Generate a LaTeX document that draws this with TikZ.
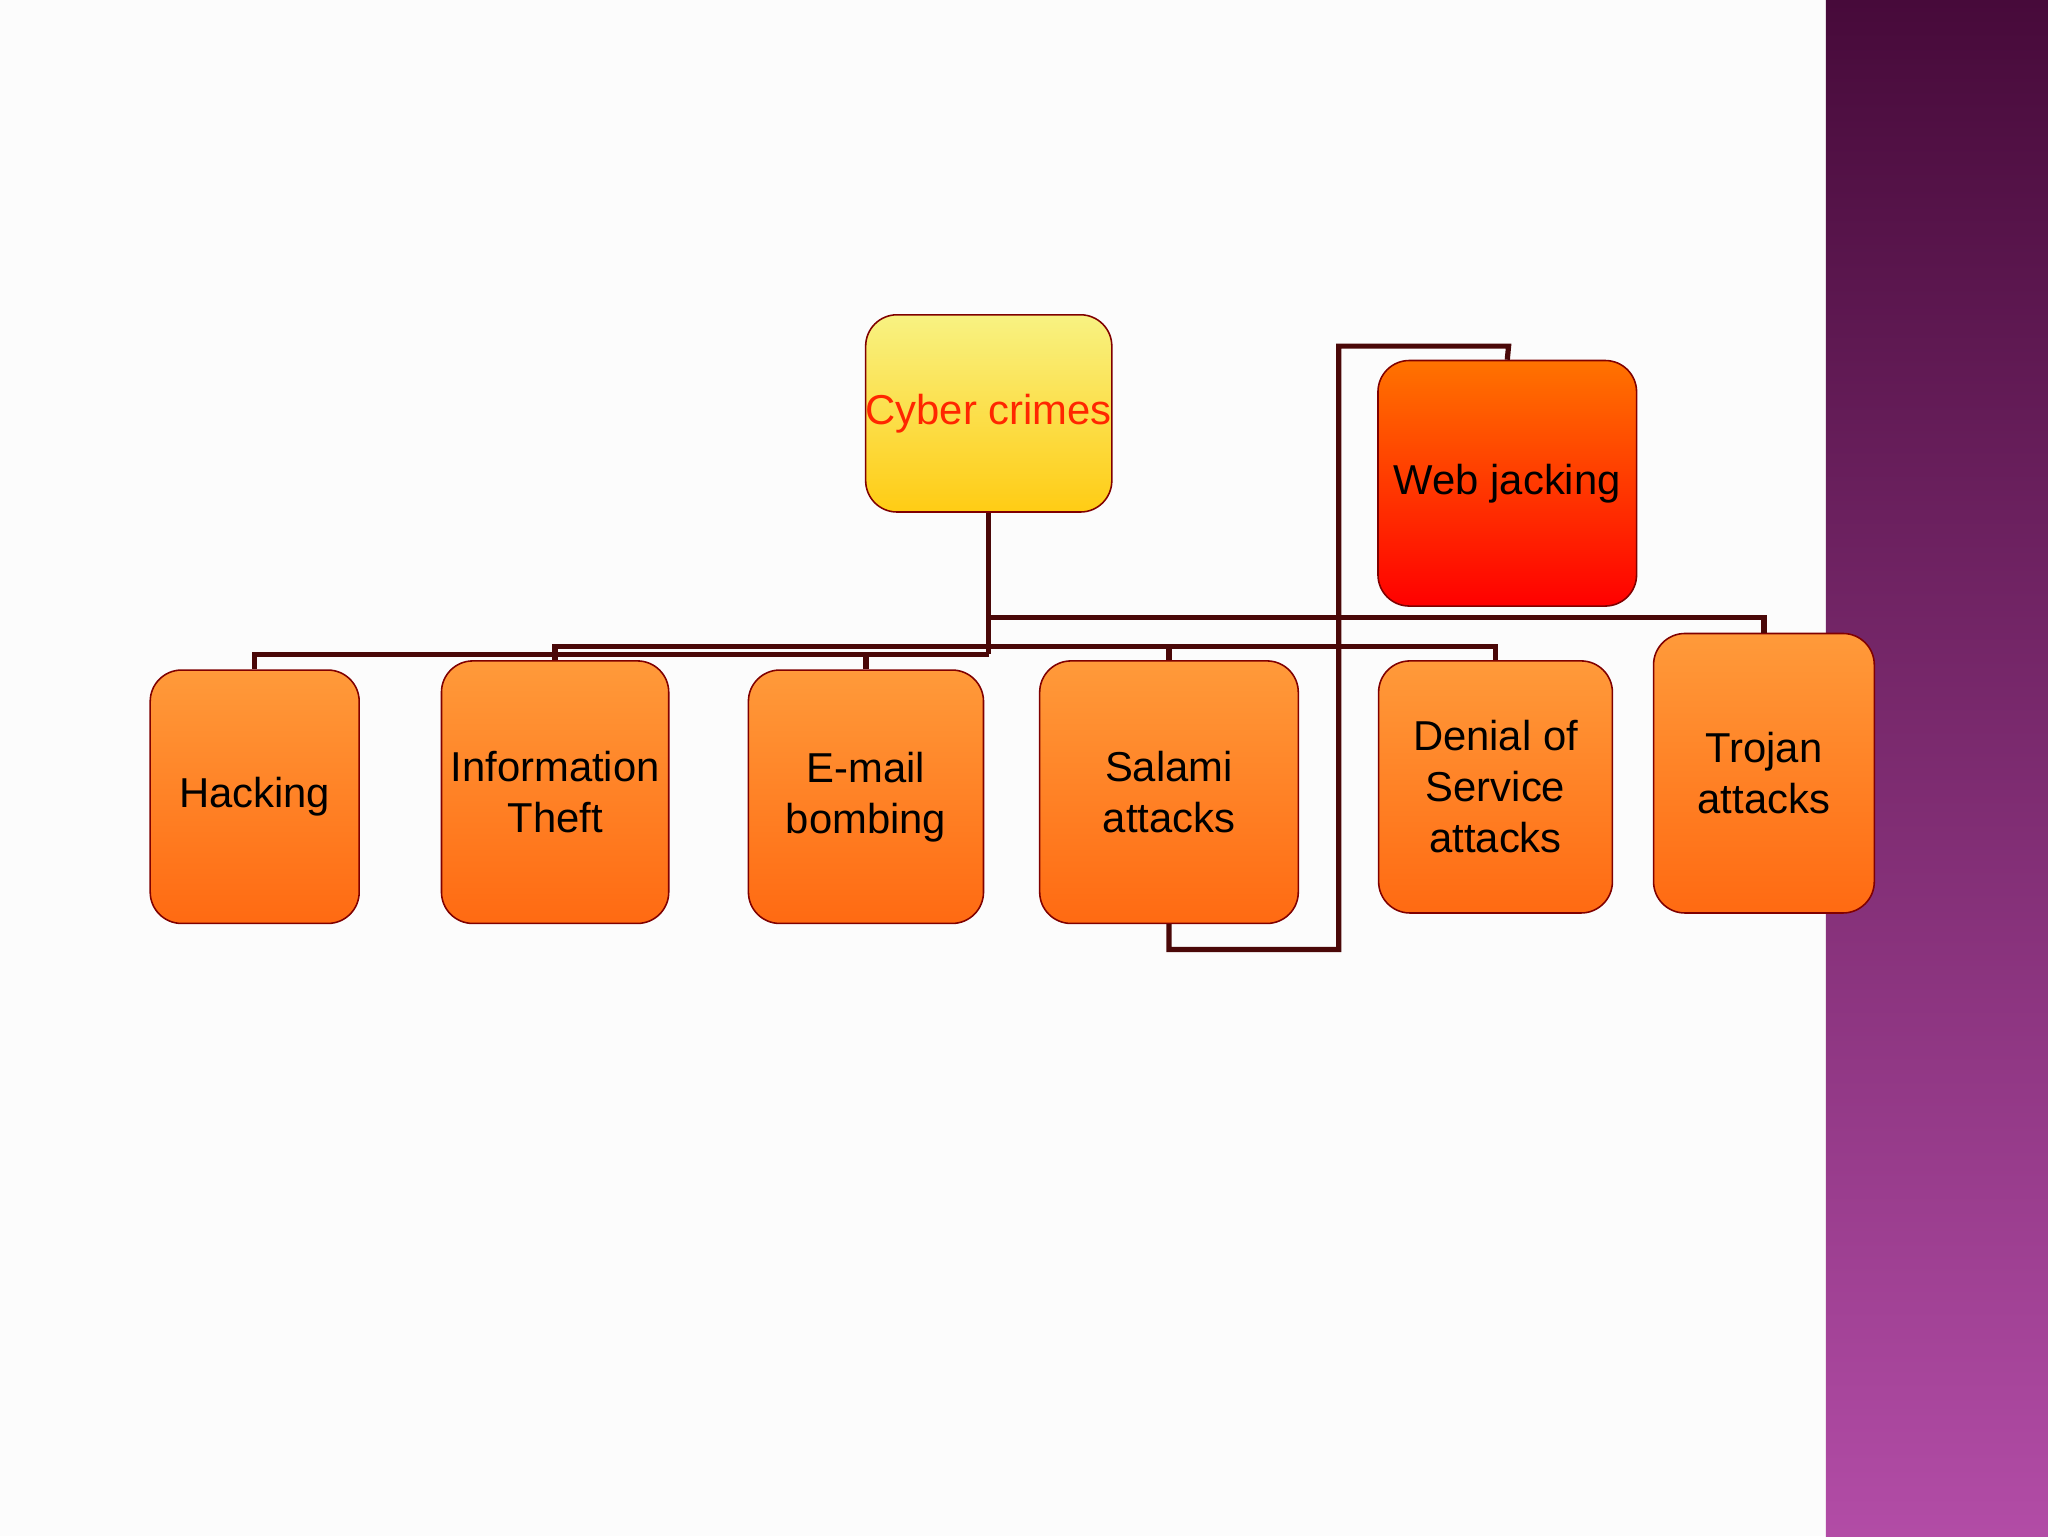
\documentclass[tikz,border=0pt]{standalone}
\usepackage{fontspec}
\setmainfont{Liberation Sans}
\definecolor{otop}{HTML}{FF9A3A}
\definecolor{obot}{HTML}{FF6A12}
\definecolor{ytop}{HTML}{F8F282}
\definecolor{ybot}{HTML}{FFCC14}
\definecolor{ptop}{HTML}{470A3A}
\definecolor{pbot}{HTML}{B24CA6}
\definecolor{lc}{HTML}{4A0808}
\begin{document}
\begin{tikzpicture}[x=1pt,y=-1pt,
  box/.style={draw=red!50!black,line width=1.2pt,rounded corners=24pt,align=center,inner sep=0pt,
     font=\fontsize{32}{39}\selectfont,top color=otop,bottom color=obot},
  conn/.style={draw=lc,line width=4pt}]
\useasboundingbox (0,0) rectangle (1568,1176);
\fill[white!98!gray] (0,0) rectangle (1398,1176);
\fill[top color=ptop,bottom color=pbot] (1398,0) rectangle (1568,1176);
\node[box,minimum width=178,minimum height=151,top color=ytop,bottom color=ybot,text=red!70!orange] (cc) at (757,316.5) {Cyber crimes};
\node[box,minimum width=198,minimum height=188,top color=orange!90!red,bottom color=red] (wj) at (1154,370) {Web jacking};
\node[box,minimum width=160,minimum height=194] (h) at (195,610) {Hacking};
\node[box,minimum width=174,minimum height=201] (it) at (425,606.5) {Information\\Theft};
\node[box,minimum width=180,minimum height=194] (em) at (663,610) {E-mail\\bombing};
\node[box,minimum width=198,minimum height=201] (sa) at (895,606.5) {Salami\\attacks};
\node[box,minimum width=179,minimum height=193] (dos) at (1145,602.5) {Denial of\\Service\\attacks};
\node[box,minimum width=169,minimum height=214] (tr) at (1350.5,592) {Trojan\\attacks};
\draw[conn] (cc.south) -- (757,501);
\draw[conn] (757,473) -| (tr.north);
\draw[conn] (757,501) -| (h.north);
\draw[conn] (757,495) -| (it.north);
\draw[conn] (757,495) -| (dos.north);
\draw[conn] (em.north) -- (663,501);
\draw[conn] (sa.north) -- (895,495);
\draw[conn] (sa.south) |- (1025,727) |- (1155,265) -- (wj.north);
\end{tikzpicture}
\end{document}
